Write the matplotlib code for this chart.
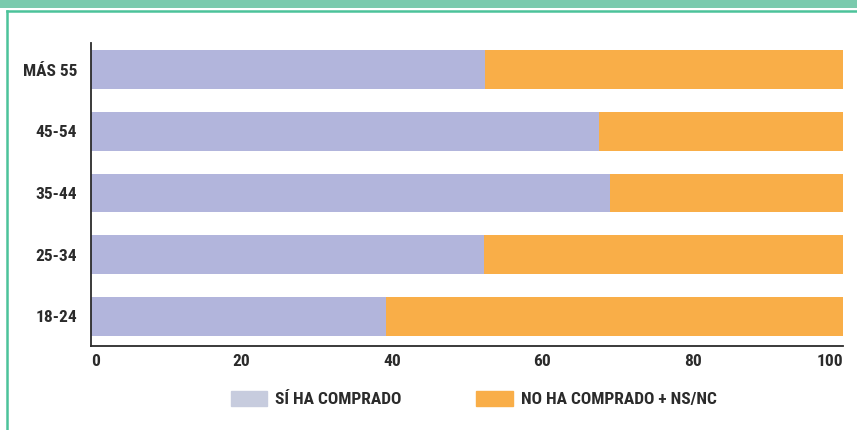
import matplotlib.pyplot as plt
from matplotlib.patches import Patch, Rectangle
from matplotlib.lines import Line2D

# datos
grupos = ["18-24", "25-34", "35-44", "45-54", "MÁS 55"]
si_compro = [39.2, 52.2, 69.0, 67.6, 52.4]
no_compro = [100 - v for v in si_compro]
etiquetas = ["SÍ HA COMPRADO", "NO HA COMPRADO + NS/NC"]

color_si = "#b2b5dc"
color_si_leyenda = "#c7ccde"
color_no = "#f9ae48"
gris = "#2b2b2b"
verde = "#7acaad"
verde_linea = "#4cc39a"

plt.rcParams['font.family'] = ['Liberation Sans Narrow', 'DejaVu Sans Condensed',
                               'Roboto Condensed', 'DejaVu Sans']
plt.rcParams['font.stretch'] = 'condensed'

fig = plt.figure(figsize=(8.57, 4.3), dpi=100)
ax = fig.add_axes([91/857, 84/430, 752/857, 303/430])

ax.barh(grupos, si_compro, height=0.63, color=color_si)
ax.barh(grupos, no_compro, left=si_compro, height=0.63, color=color_no)

ax.set_xlim(0, 100)
ax.set_ylim(-0.48, 4.43)
ax.set_xticks([0, 20, 40, 60, 80, 100])
for s in ["top", "right"]:
    ax.spines[s].set_visible(False)
for s in ["left", "bottom"]:
    ax.spines[s].set_color(gris)
    ax.spines[s].set_linewidth(1.3)
ax.tick_params(length=0, labelsize=12.5, labelcolor=gris, pad=6)
ax.tick_params(axis="y", pad=10)
for t in ax.get_xticklabels() + ax.get_yticklabels():
    t.set_fontweight("heavy")
xt = ax.get_xticklabels()
xt[0].set_ha("left")
xt[-1].set_ha("right")

# leyenda
manijas = [Patch(color=color_si_leyenda), Patch(color=color_no)]
ley = fig.legend(manijas, etiquetas, ncol=2, loc="center left",
                 bbox_to_anchor=(231/857, 1 - 399/430), frameon=False,
                 prop={"weight": "heavy", "size": 12.5},
                 handlelength=2.1, handleheight=0.95, handletextpad=0.45,
                 columnspacing=4.3, borderpad=0, borderaxespad=0)
for t in ley.get_texts():
    t.set_color(gris)

# marco verde
fig.add_artist(Rectangle((0, 1 - 8/430), 1, 8/430, transform=fig.transFigure,
                         color=verde, lw=0))
fig.add_artist(Line2D([7.5/857, 1], [1 - 11/430, 1 - 11/430], transform=fig.transFigure,
                      color=verde_linea, lw=1.8))
fig.add_artist(Line2D([7.5/857, 7.5/857], [0, 1 - 11/430], transform=fig.transFigure,
                      color=verde_linea, lw=1.8))

fig.savefig("out.png", dpi=100)
